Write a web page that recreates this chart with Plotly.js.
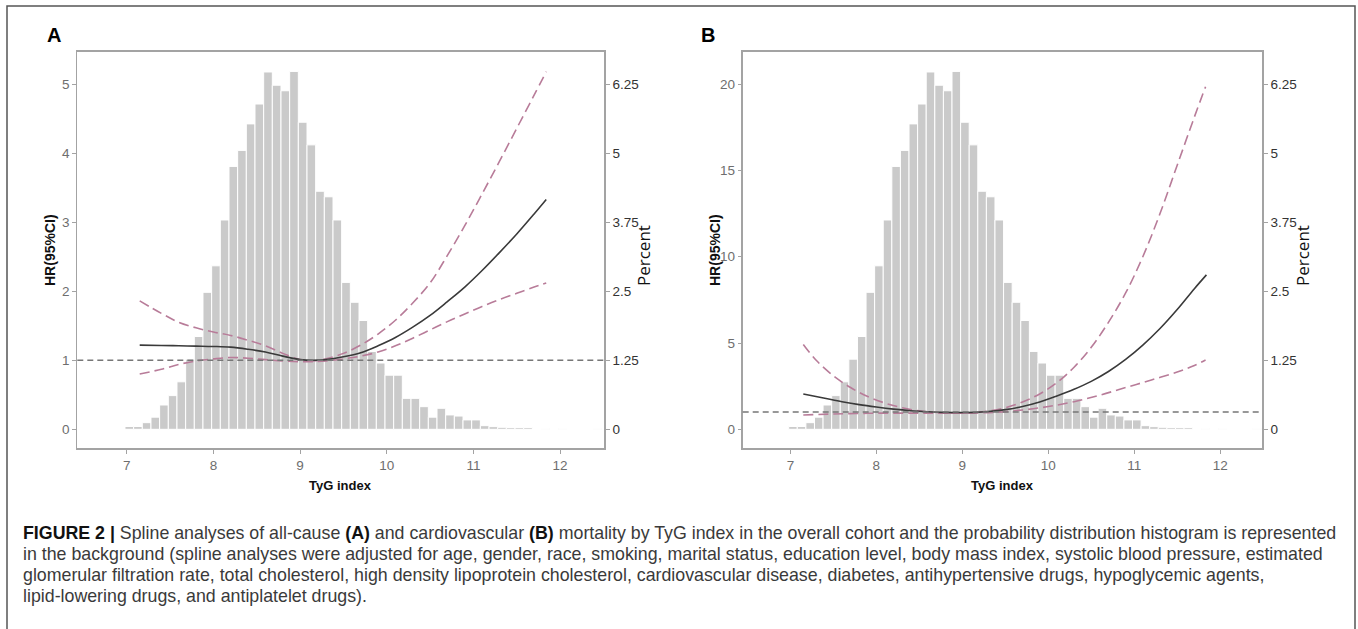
<!DOCTYPE html>
<html>
<head>
<meta charset="utf-8">
<script src="https://cdn.plot.ly/plotly-3.0.1.min.js"></script>
<style>
html,body{margin:0;padding:0;background:#fff;}
#chart{width:1358px;height:629px;}
</style>
</head>
<body>
<div id="chart"></div>
<script>
// ---------- DATA ----------
// histogram of TyG index (bin centres) and percent of participants (same cohort in both panels)
const tygBins = [7.03,7.13,7.23,7.33,7.43,7.53,7.63,7.73,7.83,7.93,8.03,8.13,8.23,8.33,8.43,8.53,8.63,8.73,8.83,8.93,
  9.03,9.13,9.23,9.33,9.43,9.53,9.63,9.73,9.83,9.93,10.03,10.13,10.23,10.33,10.43,10.53,10.63,10.73,10.83,10.93,
  11.03,11.13,11.23,11.33,11.43,11.53,11.63,11.73,11.83,11.93,12.03,12.13,12.23,12.33,12.43];
const percentHist = [0.05,0.05,0.12,0.22,0.44,0.61,0.86,1.27,1.68,2.48,2.96,3.79,4.76,5.05,5.53,5.89,6.47,6.23,6.13,6.48,
  5.56,5.15,4.31,4.21,3.79,2.66,2.30,1.97,1.41,1.20,0.98,0.98,0.56,0.56,0.41,0.22,0.38,0.26,0.24,0.17,
  0.17,0.066,0.048,0.036,0.03,0.03,0.03,0,0.012,0,0.012,0,0,0,0.012];

// Panel A: all-cause mortality spline
const tygA = [7.15,7.4,7.6,7.8,8.0,8.2,8.4,8.6,8.8,9.0,9.15,9.3,9.5,9.7,9.9,10.1,10.3,10.5,10.7,10.9,11.1,11.3,11.5,11.7,11.84];
const hrA    = [1.22,1.215,1.21,1.205,1.20,1.19,1.16,1.12,1.06,1.01,1.0,1.01,1.05,1.11,1.21,1.33,1.48,1.65,1.85,2.06,2.30,2.56,2.83,3.12,3.33];
const upperA = [1.86,1.68,1.55,1.47,1.41,1.36,1.29,1.21,1.10,1.01,0.99,1.02,1.10,1.22,1.38,1.58,1.83,2.12,2.52,2.95,3.41,3.88,4.36,4.84,5.18];
const lowerA = [0.80,0.87,0.94,0.99,1.02,1.04,1.03,1.01,0.99,0.98,0.98,0.99,1.02,1.06,1.12,1.21,1.32,1.44,1.56,1.67,1.78,1.88,1.97,2.06,2.12];

// Panel B: cardiovascular mortality spline
const tygBsolid = [7.15,7.4,7.6,7.8,8.0,8.2,8.4,8.6,8.8,9.0,9.15,9.3,9.5,9.7,9.9,10.1,10.3,10.5,10.7,10.9,11.1,11.3,11.5,11.7,11.84];
const hrB       = [2.05,1.80,1.60,1.43,1.29,1.17,1.08,1.02,0.98,0.97,0.98,1.03,1.14,1.32,1.58,1.93,2.32,2.78,3.35,4.05,4.88,5.84,6.94,8.15,8.95];
const tygBupper = [7.15,7.3,7.5,7.7,7.9,8.1,8.3,8.5,8.7,8.9,9.1,9.3,9.5,9.7,9.9,10.1,10.3,10.5,10.7,10.9,11.1,11.3,11.5,11.7,11.83];
const upperB    = [4.92,4.0,3.1,2.42,1.90,1.52,1.25,1.07,0.98,0.94,0.96,1.05,1.25,1.58,2.05,2.70,3.60,4.75,6.2,7.9,10.0,12.5,15.3,18.1,19.85];
const tygBlower = [7.15,7.5,7.9,8.3,8.7,9.1,9.4,9.7,10.0,10.3,10.6,10.9,11.2,11.5,11.7,11.83];
const lowerB    = [0.83,0.89,0.93,0.94,0.94,0.94,0.99,1.12,1.32,1.60,1.98,2.42,2.86,3.32,3.70,4.02];

const refHR = 1;
const percentTicks = [0,1.25,2.5,3.75,5,6.25];
const percentTickText = ['0','1.25','2.5','3.75','5','6.25'];
const hrTicksA = [0,1,2,3,4,5];
const hrTicksB = [0,5,10,15,20];
const xTicks = [7,8,9,10,11,12];

const captionLines = [
  '<b style="color:#111">FIGURE 2 |</b> Spline analyses of all-cause <b style="color:#111">(A)</b> and cardiovascular <b style="color:#111">(B)</b> mortality by TyG index in the overall cohort and the probability distribution histogram is represented',
  'in the background (spline analyses were adjusted for age, gender, race, smoking, marital status, education level, body mass index, systolic blood pressure, estimated',
  'glomerular filtration rate, total cholesterol, high density lipoprotein cholesterol, cardiovascular disease, diabetes, antihypertensive drugs, hypoglycemic agents,',
  'lipid-lowering drugs, and antiplatelet drugs).'
];

// ---------- LAYOUT HELPERS ----------
const W = 1358, H = 629;
const px = v => v / W;
const py = v => 1 - v / H;
const FONT = 'Liberation Sans, Arial, sans-serif';
const PCT_RANGE = [-0.344, 6.837];

const barColor = '#cacaca';
const ciColor = '#b87c99';
const solidColor = '#3a3a3a';

function histTrace(xa, ya) {
  return {type:'bar', x:tygBins, y:percentHist, width:0.1, xaxis:xa, yaxis:ya,
    marker:{color:barColor, line:{color:'#ffffff', width:1}}, hoverinfo:'skip', showlegend:false};
}
function lineTrace(x, y, xa, ya, color, dash) {
  return {type:'scatter', mode:'lines', x:x, y:y, xaxis:xa, yaxis:ya,
    line:{color:color, width:1.6, dash:dash, shape:'spline', smoothing:1}, hoverinfo:'skip', showlegend:false};
}

const traces = [
  histTrace('x','y'),
  lineTrace(tygA, upperA, 'x','y2', ciColor, '10px,5px'),
  lineTrace(tygA, lowerA, 'x','y2', ciColor, '10px,5px'),
  lineTrace(tygA, hrA, 'x','y2', solidColor, 'solid'),
  histTrace('x2','y3'),
  lineTrace(tygBupper, upperB, 'x2','y4', ciColor, '10px,5px'),
  lineTrace(tygBlower, lowerB, 'x2','y4', ciColor, '10px,5px'),
  lineTrace(tygBsolid, hrB, 'x2','y4', solidColor, 'solid'),
];

const plotTop = 51.7, plotBot = 448.3;
const yDom = [py(plotBot), py(plotTop)];
const frameCol = '#a3a3a3';
const TICK_SIZE = 13.5;

function xAxis(dom, range, anchor) {
  return {domain:dom, range:range, anchor:anchor, tickvals:xTicks, ticks:'outside', ticklen:4, tickwidth:1,
    tickcolor:frameCol, showline:true, linecolor:frameCol, linewidth:1.5, mirror:true, showgrid:false,
    zeroline:false, tickfont:{family:FONT, size:TICK_SIZE, color:'#6e6e6e'}, automargin:false, fixedrange:true};
}
function pctAxis(anchor) {
  return {domain:yDom, range:PCT_RANGE, anchor:anchor, side:'right', tickvals:percentTicks, ticktext:percentTickText,
    ticks:'outside', ticklen:4, tickwidth:1, tickcolor:frameCol, showline:true, linecolor:frameCol, linewidth:1.5,
    mirror:true, showgrid:false, zeroline:false, tickfont:{family:FONT, size:TICK_SIZE, color:'#333333'}, automargin:false, fixedrange:true};
}
function hrAxis(over, anchor, range, ticks) {
  return {overlaying:over, anchor:anchor, side:'left', range:range, tickvals:ticks, ticks:'outside', ticklen:4, tickwidth:1,
    tickcolor:frameCol, showline:false, showgrid:false, zeroline:false,
    tickfont:{family:FONT, size:TICK_SIZE, color:'#6e6e6e'}, automargin:false, fixedrange:true};
}

const domA = [px(77.3), px(604.3)];
const domB = [px(742.7), px(1262.3)];

const annotations = [
  {xref:'paper', yref:'paper', x:px(45), y:py(35), xanchor:'left', yanchor:'middle', text:'<b>A</b>', showarrow:false,
   font:{family:FONT, size:20, color:'#000'}},
  {xref:'paper', yref:'paper', x:px(699), y:py(35), xanchor:'left', yanchor:'middle', text:'<b>B</b>', showarrow:false,
   font:{family:FONT, size:20, color:'#000'}},
  {xref:'paper', yref:'paper', x:px(50), y:py(250), textangle:-90, xanchor:'center', yanchor:'middle', text:'<b>HR(95%CI)</b>',
   showarrow:false, font:{family:FONT, size:14, color:'#111'}},
  {xref:'paper', yref:'paper', x:px(715), y:py(250), textangle:-90, xanchor:'center', yanchor:'middle', text:'<b>HR(95%CI)</b>',
   showarrow:false, font:{family:FONT, size:14, color:'#111'}},
  {xref:'paper', yref:'paper', x:px(644), y:py(256), textangle:-90, xanchor:'center', yanchor:'middle', text:'Percent',
   showarrow:false, font:{family:'Open Sans, sans-serif', size:17, color:'#111'}},
  {xref:'paper', yref:'paper', x:px(1303), y:py(256), textangle:-90, xanchor:'center', yanchor:'middle', text:'Percent',
   showarrow:false, font:{family:'Open Sans, sans-serif', size:17, color:'#111'}},
  {xref:'paper', yref:'paper', x:(domA[0]+domA[1])/2, y:py(485), xanchor:'center', yanchor:'middle', text:'<b>TyG index</b>',
   showarrow:false, font:{family:FONT, size:13, color:'#111'}},
  {xref:'paper', yref:'paper', x:(domB[0]+domB[1])/2, y:py(485), xanchor:'center', yanchor:'middle', text:'<b>TyG index</b>',
   showarrow:false, font:{family:FONT, size:13, color:'#111'}},
];
const capY = [533, 554, 575, 596];
captionLines.forEach((t, i) => {
  annotations.push({xref:'paper', yref:'paper', x:px(21), y:py(capY[i]), xanchor:'left', yanchor:'middle', text:t,
    showarrow:false, align:'left', font:{family:FONT, size:17.8, color:'#3a3a3a'}});
});

const shapes = [
  {type:'path', xref:'paper', yref:'paper', path:`M ${px(7)},-0.02 L ${px(7)},${py(6)} L ${px(1355)},${py(6)} L ${px(1355)},-0.02`,
   line:{color:'#555555', width:1.5}},
  {type:'line', xref:'x domain', yref:'y2', x0:0, x1:1, y0:refHR, y1:refHR, layer:'above',
   line:{color:'#777777', width:1.5, dash:'6px,4px'}},
  {type:'line', xref:'x2 domain', yref:'y4', x0:0, x1:1, y0:refHR, y1:refHR, layer:'above',
   line:{color:'#777777', width:1.5, dash:'6px,4px'}},
];

const layout = {
  width:W, height:H, margin:{l:0, r:0, t:0, b:0}, paper_bgcolor:'#ffffff', plot_bgcolor:'#ffffff',
  showlegend:false, bargap:0,
  xaxis: xAxis(domA, [6.43, 12.51], 'y'),
  yaxis: pctAxis('x'),
  yaxis2: hrAxis('y', 'x', [-0.275, 5.47], hrTicksA),
  xaxis2: xAxis(domB, [6.445, 12.49], 'y3'),
  yaxis3: pctAxis('x2'),
  yaxis4: hrAxis('y3', 'x2', [-1.1, 21.88], hrTicksB),
  annotations: annotations,
  shapes: shapes,
};

Plotly.newPlot('chart', traces, layout, {displayModeBar:false, staticPlot:true});
</script>
</body>
</html>
